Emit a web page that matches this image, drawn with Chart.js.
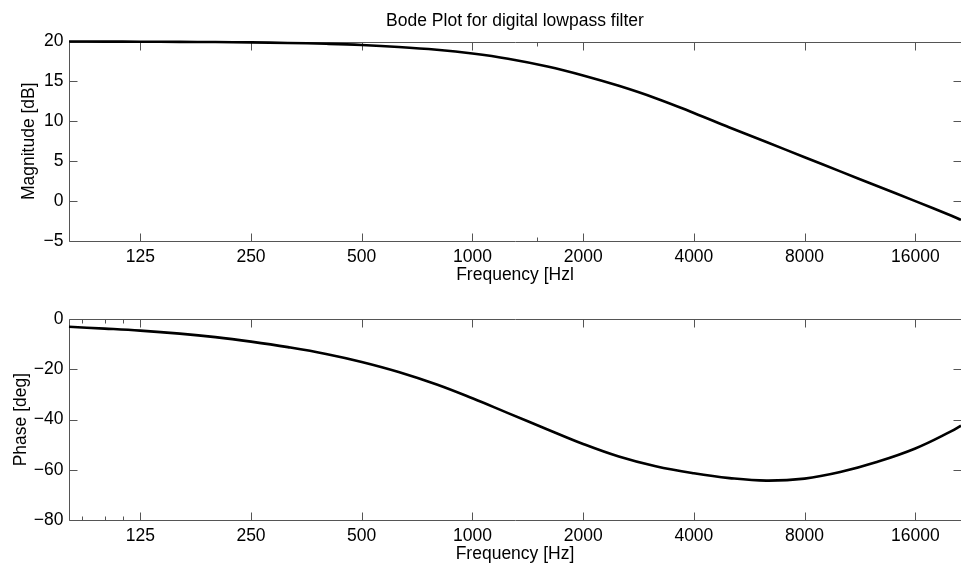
<!DOCTYPE html>
<html>
<head>
<meta charset="utf-8">
<title>Bode Plot for digital lowpass filter</title>
<script src="https://cdn.jsdelivr.net/npm/chart.js@4.4.0/dist/chart.umd.min.js"></script>
<style>
  html, body { margin: 0; padding: 0; background: #fff; }
  .plot { position: absolute; left: 0; width: 961px; }
  #magPlot { top: 0; height: 290px; }
  #phasePlot { top: 290px; height: 275px; }
</style>
</head>
<body>
<div class="plot" id="magPlot"><canvas id="magChart" width="961" height="290"></canvas></div>
<div class="plot" id="phasePlot"><canvas id="phaseChart" width="961" height="275"></canvas></div>
<script>
// values
const frequencies = [80, 100, 125, 160, 200, 250, 315, 400, 500, 630, 800, 1000, 1250,
  1600, 2000, 2500, 3150, 4000, 5000, 6300, 8000, 10000, 12500, 16000, 20000, 21300];
const magnitudeDb = [20.0, 19.99, 19.97, 19.95, 19.93, 19.89, 19.82, 19.71, 19.56, 19.32, 18.97, 18.5, 17.85,
  16.87, 15.75, 14.45, 12.9, 11.05, 9.23, 7.4, 5.5, 3.72, 1.95, 0.0, -1.8, -2.35];
const phaseDeg = [-3.0, -3.7, -4.5, -5.7, -7.1, -8.9, -11.1, -13.8, -17.0, -21.0, -26.0, -31.5, -37.4,
  -43.9, -49.7, -54.7, -58.6, -61.4, -63.3, -64.3, -63.5, -60.9, -57.0, -51.5, -44.7, -42.4];

const freqRange = [80, 21300];
const freqTicks = [125, 250, 500, 1000, 2000, 4000, 8000, 16000];
const magMinorTicks = [1500];
const phaseMinorTicks = [87, 100, 112];
const magTicks = [-5, 0, 5, 10, 15, 20];
const phaseTicks = [-80, -60, -40, -20, 0];

const FONT = "'Liberation Sans', Arial, Helvetica, sans-serif";
Chart.defaults.font.family = FONT;
Chart.defaults.font.size = 17.5;
Chart.defaults.color = '#000';

const fmtMinus = v => (v < 0 ? '\u2212' + Math.abs(v) : String(v));

// matlab style box with inward ticks on all sides
const matlabBox = {
  id: 'matlabBox',
  beforeDatasetsDraw(chart) {
    const { ctx, chartArea: a, scales: { x, y } } = chart;
    const L = Math.round(a.left) + 0.5, R = Math.round(a.right) + 0.5;
    const T = Math.round(a.top) + 0.5, B = Math.round(a.bottom) + 0.5;
    ctx.save();
    ctx.strokeStyle = '#555';
    ctx.lineWidth = 1;
    ctx.beginPath();
    ctx.rect(L, T, R - L, B - T);
    x.ticks.forEach(t => {
      const px = Math.round(x.getPixelForValue(t.value)) + 0.5;
      const len = t.minor ? 4 : 8;
      ctx.moveTo(px, B); ctx.lineTo(px, B - len);
      ctx.moveTo(px, T); ctx.lineTo(px, T + len);
    });
    y.ticks.forEach(t => {
      const py = Math.round(y.getPixelForValue(t.value)) + 0.5;
      ctx.moveTo(L, py); ctx.lineTo(L + 8, py);
      ctx.moveTo(R, py); ctx.lineTo(R - 8, py);
    });
    ctx.stroke();
    ctx.restore();
  }
};

function makeChart(canvasId, values, opts) {
  return new Chart(document.getElementById(canvasId), {
    type: 'line',
    data: {
      datasets: [{
        data: frequencies.map((f, i) => ({ x: f, y: values[i] })),
        borderColor: '#000',
        borderWidth: 2.6,
        pointRadius: 0,
        tension: 0.4,
        clip: 3
      }]
    },
    options: {
      responsive: false,
      animation: false,
      layout: { padding: { top: opts.padTop, left: 0, right: 0, bottom: 0 } },
      plugins: {
        legend: { display: false },
        tooltip: { enabled: false },
        title: opts.title ? {
          display: true,
          text: opts.title,
          fullSize: false,
          font: { size: 17.5, weight: 'normal' },
          padding: { top: 10.5, bottom: 10 }
        } : { display: false }
      },
      scales: {
        x: {
          type: 'logarithmic',
          min: freqRange[0],
          max: freqRange[1],
          grid: { display: false, drawTicks: false },
          border: { display: false },
          ticks: {
            autoSkip: false,
            maxRotation: 0,
            padding: 6,
            callback: v => (freqTicks.includes(v) ? String(v) : '')
          },
          afterBuildTicks: scale => {
            scale.ticks = freqTicks.map(v => ({ value: v }))
              .concat(opts.minorTicks.map(v => ({ value: v, minor: true })))
              .sort((a, b) => a.value - b.value);
          },
          afterFit: scale => { scale.height = opts.xHeight; },
          title: {
            display: true,
            text: opts.xLabel,
            font: { size: 17.5 },
            padding: { top: 0, bottom: opts.xTitlePad }
          }
        },
        y: {
          min: opts.yTicks[0],
          max: opts.yTicks[opts.yTicks.length - 1],
          grid: { display: false, drawTicks: false },
          border: { display: false },
          ticks: { padding: 5.5, callback: fmtMinus },
          afterBuildTicks: scale => {
            scale.ticks = opts.yTicks.map(v => ({ value: v }));
          },
          afterFit: scale => { scale.width = 69; },
          title: {
            display: true,
            text: opts.yLabel,
            font: { size: 17.5 },
            padding: { top: opts.yTitlePad, bottom: 0 }
          }
        }
      }
    },
    plugins: [matlabBox]
  });
}

makeChart('magChart', magnitudeDb, {
  title: 'Bode Plot for digital lowpass filter',
  padTop: 0,
  xHeight: 49,
  xTitlePad: 4,
  xLabel: 'Frequency [Hzl',
  yLabel: 'Magnitude [dB]',
  yTitlePad: 18.5,
  yTicks: magTicks,
  minorTicks: magMinorTicks
});

makeChart('phaseChart', phaseDeg, {
  title: null,
  padTop: 29.3,
  xHeight: 45,
  xTitlePad: 0,
  xLabel: 'Frequency [Hz]',
  yLabel: 'Phase [deg]',
  yTitlePad: 10.5,
  yTicks: phaseTicks,
  minorTicks: phaseMinorTicks
});
</script>
</body>
</html>
